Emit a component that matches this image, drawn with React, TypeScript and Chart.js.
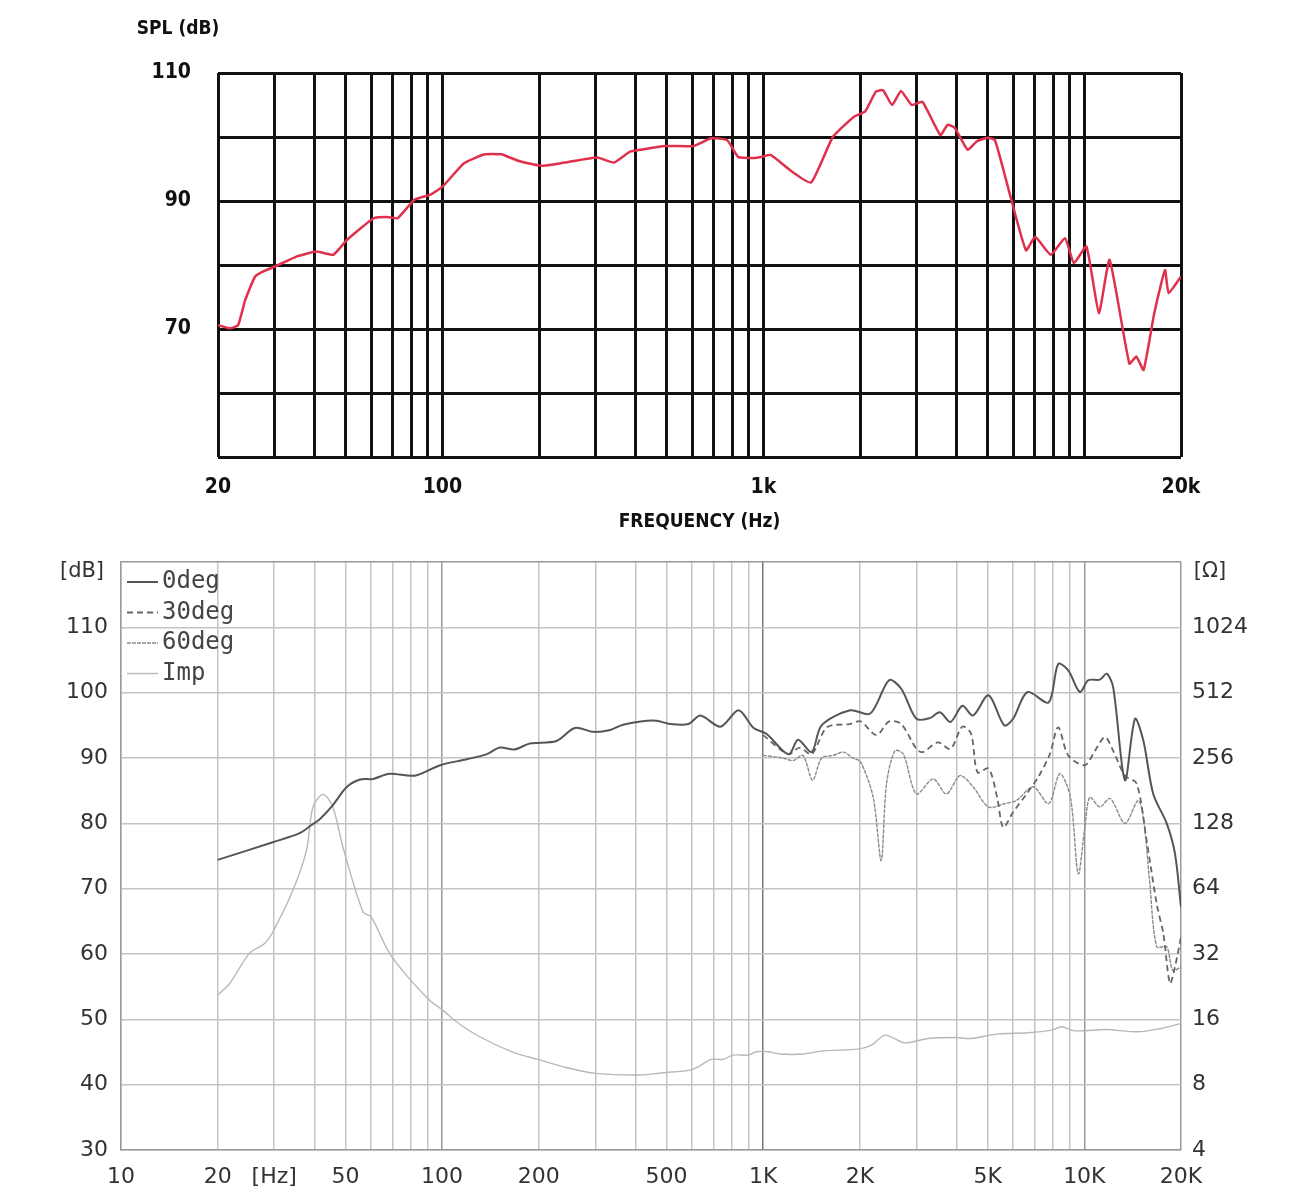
import React, { useEffect, useRef } from "react";
import { Chart, registerables } from "chart.js";

Chart.register(...registerables);

// ---- top chart: on-axis SPL ----
const splFreq = [
  20, 21.8, 23.1, 24.3, 26.1, 27.7, 30.8, 35.1, 40.5, 45.7, 50.4, 61.1, 67.4, 72.5, 81.9, 91.8, 99.9,
  116.8, 135.5, 152.5, 171.9, 203, 240, 304, 342, 384, 413, 494, 606, 688, 772, 834, 938, 988, 1054,
  1212, 1408, 1646, 1920, 2076, 2242, 2360, 2518, 2684, 2896, 3130, 3560, 3750, 3950, 4330, 4616, 4994,
  5266, 5850, 6578, 7026, 7852, 8702, 9278, 10148, 11098, 11982, 13804, 14524, 15292, 16514, 17830,
  18300, 20000,
];
const splDb = [
  70.6, 70.1, 70.6, 74.5, 78.2, 79, 80, 81.3, 82.1, 81.6, 83.9, 87.3, 87.5, 87.3, 90.2, 91, 92.2,
  95.9, 97.3, 97.3, 96.3, 95.5, 96, 96.8, 96, 97.7, 98, 98.6, 98.6, 99.8, 99.5, 96.9, 96.7, 96.9, 97.2,
  94.8, 92.9, 100, 103.2, 104, 107.1, 107.3, 105, 107.2, 105, 105.5, 100.3, 101.9, 101.4, 98, 99.3, 99.9,
  99.5, 91.2, 82.3, 84.4, 81.6, 84.2, 80.3, 82.9, 72.5, 80.8, 64.6, 65.7, 63.6, 72.5, 79.2,
  75.6, 78.2,
];
const splGridX = [
  20, 30, 40, 50, 60, 70, 80, 90, 100, 200, 300, 400, 500, 600, 700, 800, 900, 1000, 2000, 3000,
  4000, 5000, 6000, 7000, 8000, 9000, 10000, 20000,
];
const splXLabels: Record<number, string> = { 20: "20", 100: "100", 1000: "1k", 20000: "20k" };
const splYLabels = [110, 90, 70];

// ---- bottom chart: polar response + impedance ----
const f0 = [
  20, 29.7, 36, 39.1, 41.5, 45.7, 50.3, 55.5, 60.9, 68.6, 82.2, 98.6, 119.2, 137.7, 151.3, 168, 187,
  227, 259, 296, 334, 366, 415, 465, 513, 585, 637, 736, 838, 933, 1023, 1152, 1209, 1284, 1415, 1520,
  1865, 2155, 2466, 2690, 3000, 3300, 3550, 3830, 4170, 4500, 5030, 5630, 6000, 6650, 7740, 8290, 8910,
  9690, 10280, 11180, 11740, 12300, 13380, 14380, 15260, 16390, 18050, 19150, 20000,
];
const spl0 = [
  74.4, 77.1, 78.5, 79.7, 80.6, 82.8, 85.5, 86.7, 86.8, 87.6, 87.3, 88.9, 89.8, 90.6, 91.6, 91.3, 92.2,
  92.6, 94.6, 94, 94.3, 95.1, 95.6, 95.7, 95.2, 95.2, 96.5, 94.8, 97.3, 94.6, 93.7, 91.1, 90.6, 92.8, 90.9, 95,
  97.3, 96.8, 101.9, 100.6, 96, 96.1, 97, 95.5, 98, 96.5, 99.6, 95, 96, 100.1, 98.5, 104.4, 103.4,
  100.1, 101.9, 102, 102.9, 100.8, 86.6, 96, 92.7, 84.5, 80, 75.4, 67.2,
];
const f30 = [
  1000, 1152, 1209, 1298, 1415, 1580, 1865, 2010, 2250, 2466, 2690, 3000, 3140, 3500, 3830, 4170, 4440,
  4650, 5030, 5350, 5590, 6000, 6610, 7190, 7810, 8290, 8910, 10040, 10790, 11590, 12300, 13380, 14550,
  15630, 16800, 17620, 18480, 19150, 20000,
];
const spl30 = [
  93.5, 91, 90.6, 91.6, 90.6, 94.7, 95.2, 95.6, 93.5, 95.6, 95.2, 91.4, 90.9, 92.4, 91.4, 94.8, 93.7,
  87.8, 88.4, 84, 79.4, 81.7, 84.5, 87.1, 90.6, 94.7, 90.4, 88.9, 91.1, 93.2, 91.1, 87.3, 86.1,
  77.4, 67.7, 63.1, 55.5, 58, 62.6,
];
const f60 = [
  1000, 1152, 1240, 1330, 1425, 1520, 1650, 1780, 1900, 2010, 2200, 2330, 2420, 2570, 2730, 3000, 3380,
  3720, 4100, 4500, 5030, 5630, 6150, 6930, 7740, 8390, 9050, 9570, 10040, 10400, 11180, 12030, 13380,
  14700, 15260, 15960, 16800, 18050, 18850, 20000,
];
const spl60 = [
  90.4, 90, 89.6, 90.4, 86.6, 90, 90.4, 90.9, 90, 89.4, 84, 74.3, 86, 91.1, 90.6, 84.5, 86.8,
  84.5, 87.3, 85.6, 82.5, 83, 83.5, 85.6, 83, 87.6, 84, 72.3, 79.4, 84, 82.5, 83.8, 80,
  83.5, 81, 71.3, 61.1, 61.1, 57.5, 58,
];
const fImp = [
  20, 21.8, 25.1, 28, 29.7, 34.3, 37.8, 39.6, 42.6, 45.7, 49.1, 56.7, 60.1, 68.6, 78.2, 91.4, 100.6,
  110.7, 131, 166, 201, 243, 301, 412, 488, 593, 627, 688, 751, 804, 899, 952, 1037, 1130, 1331, 1536,
  1973, 2176, 2396, 2758, 3263, 3965, 4442, 5346, 6678, 7910, 8486, 9354, 11690, 14640, 17310, 19640, 20000,
];
const impOhm = [
  20.7, 23.4, 32.2, 35.8, 40.4, 62.9, 96.1, 152, 174, 152, 99.6, 50, 47.4, 32.2, 25.1, 19.6, 17.6,
  15.6, 13.3, 11.3, 10.4, 9.6, 9.02, 8.86, 9.08, 9.34, 9.67, 10.46, 10.46, 10.95, 10.95, 11.34, 11.34, 11.07, 11.07, 11.45,
  11.66, 12.17, 13.53, 12.47, 13.06, 13.2, 13.06, 13.68, 13.87, 14.27, 14.78, 14.16, 14.37, 14.02, 14.52, 15.2, 15.3,
];
const polarGridX = [
  10, 20, 30, 40, 50, 60, 70, 80, 90, 100, 200, 300, 400, 500, 600, 700, 800, 900, 1000, 2000, 3000,
  4000, 5000, 6000, 7000, 8000, 9000, 10000, 20000,
];
const polarXLabels: Record<number, string> = {
  10: "10", 20: "20", 30: "[Hz]", 50: "50", 100: "100", 200: "200", 500: "500",
  1000: "1K", 2000: "2K", 5000: "5K", 10000: "10K", 20000: "20K",
};
const dbTicks = [30, 40, 50, 60, 70, 80, 90, 100, 110, 120];
const ohmTicks = [4, 8, 16, 32, 64, 128, 256, 512, 1024];
const legendNames = ["0deg", "30deg", "60deg", "Imp"];

const narrow = "'Liberation Sans Narrow', 'Arial Narrow', 'DejaVu Sans Condensed', sans-serif";
const plain = "'DejaVu Sans', sans-serif";
const mono = "'DejaVu Sans Mono', monospace";

const pts = (xs: number[], ys: number[]) => xs.map((x, i) => ({ x, y: ys[i] }));

// keep the plot box where we put it, no extra room for half labels
const noPad = (s: any) => {
  s.paddingTop = 0;
  s.paddingBottom = 0;
};

const SplChart: React.FC = () => {
  const ref = useRef<HTMLCanvasElement | null>(null);

  useEffect(() => {
    if (!ref.current) return;
    const splTitle = {
      id: "splTitle",
      afterDraw(chart: Chart) {
        const ctx = chart.ctx;
        ctx.save();
        ctx.fillStyle = "#111";
        ctx.font = `bold 19px ${narrow}`;
        ctx.textAlign = "center";
        ctx.textBaseline = "middle";
        ctx.fillText("SPL (dB)", 178, 29);
        ctx.restore();
      },
    };
    const chart = new Chart(ref.current, {
      type: "line",
      data: {
        datasets: [
          {
            data: pts(splFreq, splDb),
            borderColor: "#e0304c",
            borderWidth: 2.5,
            pointRadius: 0,
            tension: 0.15,
          },
        ],
      },
      options: {
        animation: false,
        responsive: false,
        layout: { padding: { left: 0, right: 119, top: 73, bottom: 0 } },
        plugins: { legend: { display: false }, tooltip: { enabled: false } },
        scales: {
          x: {
            type: "logarithmic",
            min: 20,
            max: 20000,
            afterBuildTicks: (s: any) => {
              s.ticks = splGridX.map((v) => ({ value: v }));
            },
            afterFit: (s: any) => {
              s.height = 88;
            },
            grid: { color: "#111", lineWidth: 3, drawTicks: false },
            border: { display: false },
            ticks: {
              autoSkip: false,
              maxRotation: 0,
              padding: 18,
              color: "#111",
              font: { family: narrow, size: 21, weight: "bold" },
              callback: (v: any) => splXLabels[Number(v)] ?? "",
            },
            title: {
              display: true,
              text: "FREQUENCY (Hz)",
              color: "#111",
              font: { family: narrow, size: 19, weight: "bold" },
              padding: { top: 0, bottom: 12 },
            },
          },
          y: {
            min: 50,
            max: 110,
            afterFit: (s: any) => {
              s.width = 218;
            },
            grid: { color: "#111", lineWidth: 3, drawTicks: false },
            border: { display: false },
            ticks: {
              stepSize: 10,
              padding: 27,
              color: "#111",
              font: { family: narrow, size: 21, weight: "bold" },
              callback: (v: any) => (splYLabels.includes(Number(v)) ? String(v) : ""),
            },
          },
        },
      },
      plugins: [splTitle],
    });
    return () => chart.destroy();
  }, []);

  return (
    <canvas
      ref={ref}
      width={1300}
      height={545}
      style={{ position: "absolute", left: 0, top: 0, width: 1300, height: 545 }}
    />
  );
};

const PolarChart: React.FC = () => {
  const ref = useRef<HTMLCanvasElement | null>(null);

  useEffect(() => {
    if (!ref.current) return;
    const extras = {
      id: "extras",
      afterDraw(chart: Chart) {
        const ctx = chart.ctx;
        const area = chart.chartArea;
        ctx.save();
        ctx.fillStyle = "#333";
        ctx.font = `21px ${plain}`;
        ctx.textBaseline = "middle";
        ctx.textAlign = "center";
        ctx.fillText("[dB]", 82, 24);
        ctx.fillText("[Ω]", 1210, 24);
        // legend inside the plot, top left
        ctx.font = `24px ${mono}`;
        ctx.textAlign = "left";
        chart.data.datasets.forEach((ds: any, i: number) => {
          const y = area.top + 20 + i * 30.5;
          ctx.save();
          ctx.strokeStyle = ds.borderColor;
          ctx.lineWidth = ds.borderWidth;
          ctx.setLineDash(ds.borderDash || []);
          ctx.beginPath();
          ctx.moveTo(area.left + 6, y);
          ctx.lineTo(area.left + 37, y);
          ctx.stroke();
          ctx.restore();
          ctx.fillStyle = "#444";
          ctx.fillText(legendNames[i], area.left + 41, y);
        });
        ctx.restore();
      },
    };
    const gridColor = (c: any) => {
      const v = c.tick?.value;
      if (v === 1000) return "#777";
      if (v === 100 || v === 10000 || v === 20000) return "#999";
      return "#c4c4c4";
    };
    const chart = new Chart(ref.current, {
      type: "line",
      data: {
        datasets: [
          { data: pts(f0, spl0), borderColor: "#555", borderWidth: 2, pointRadius: 0, tension: 0.3, yAxisID: "y" },
          {
            data: pts(f30, spl30),
            borderColor: "#666",
            borderWidth: 1.8,
            borderDash: [6, 4],
            pointRadius: 0,
            tension: 0.3,
            yAxisID: "y",
          },
          {
            data: pts(f60, spl60),
            borderColor: "#8a8a8a",
            borderWidth: 1.4,
            borderDash: [4, 1],
            pointRadius: 0,
            tension: 0.3,
            yAxisID: "y",
          },
          { data: pts(fImp, impOhm), borderColor: "#b8b8b8", borderWidth: 1.4, pointRadius: 0, tension: 0.3, yAxisID: "y2" },
        ],
      },
      options: {
        animation: false,
        responsive: false,
        layout: { padding: { left: 0, right: 0, top: 14, bottom: 0 } },
        plugins: { legend: { display: false }, tooltip: { enabled: false } },
        scales: {
          x: {
            type: "logarithmic",
            min: 10,
            max: 20000,
            afterBuildTicks: (s: any) => {
              s.ticks = polarGridX.map((v) => ({ value: v }));
            },
            afterFit: (s: any) => {
              s.height = 39;
            },
            grid: { color: gridColor, lineWidth: 1.5, drawTicks: false },
            border: { display: true, color: "#999", width: 1.5 },
            ticks: {
              autoSkip: false,
              maxRotation: 0,
              padding: 14,
              color: "#333",
              font: { family: plain, size: 22 },
              callback: (v: any) => polarXLabels[Number(v)] ?? "",
            },
          },
          y: {
            min: 30,
            max: 120,
            afterBuildTicks: (s: any) => {
              s.ticks = dbTicks.map((v) => ({ value: v }));
            },
            afterFit: (s: any) => {
              s.width = 121;
              noPad(s);
            },
            grid: { color: (c: any) => (c.tick?.value === 120 ? "#999" : "#c4c4c4"), lineWidth: 1.5, drawTicks: false },
            border: { display: true, color: "#999", width: 1.5 },
            ticks: {
              padding: 13,
              color: "#333",
              font: { family: plain, size: 22 },
              callback: (v: any) => (Number(v) <= 110 ? String(v) : ""),
            },
          },
          y2: {
            type: "logarithmic",
            position: "right",
            min: 4,
            max: 2048,
            afterBuildTicks: (s: any) => {
              s.ticks = ohmTicks.map((v) => ({ value: v }));
            },
            afterFit: (s: any) => {
              s.width = 119;
              noPad(s);
            },
            grid: { display: false, drawTicks: false },
            border: { display: false },
            ticks: {
              padding: 11,
              color: "#333",
              font: { family: plain, size: 22 },
              callback: (v: any) => String(v),
            },
          },
        },
      },
      plugins: [extras],
    });
    return () => chart.destroy();
  }, []);

  return (
    <canvas
      ref={ref}
      width={1300}
      height={641}
      style={{ position: "absolute", left: 0, top: 548, width: 1300, height: 641 }}
    />
  );
};

export default function App() {
  return (
    <div style={{ position: "absolute", left: 0, top: 0, width: 1300, height: 1189, background: "#fff" }}>
      <SplChart />
      <PolarChart />
    </div>
  );
}
